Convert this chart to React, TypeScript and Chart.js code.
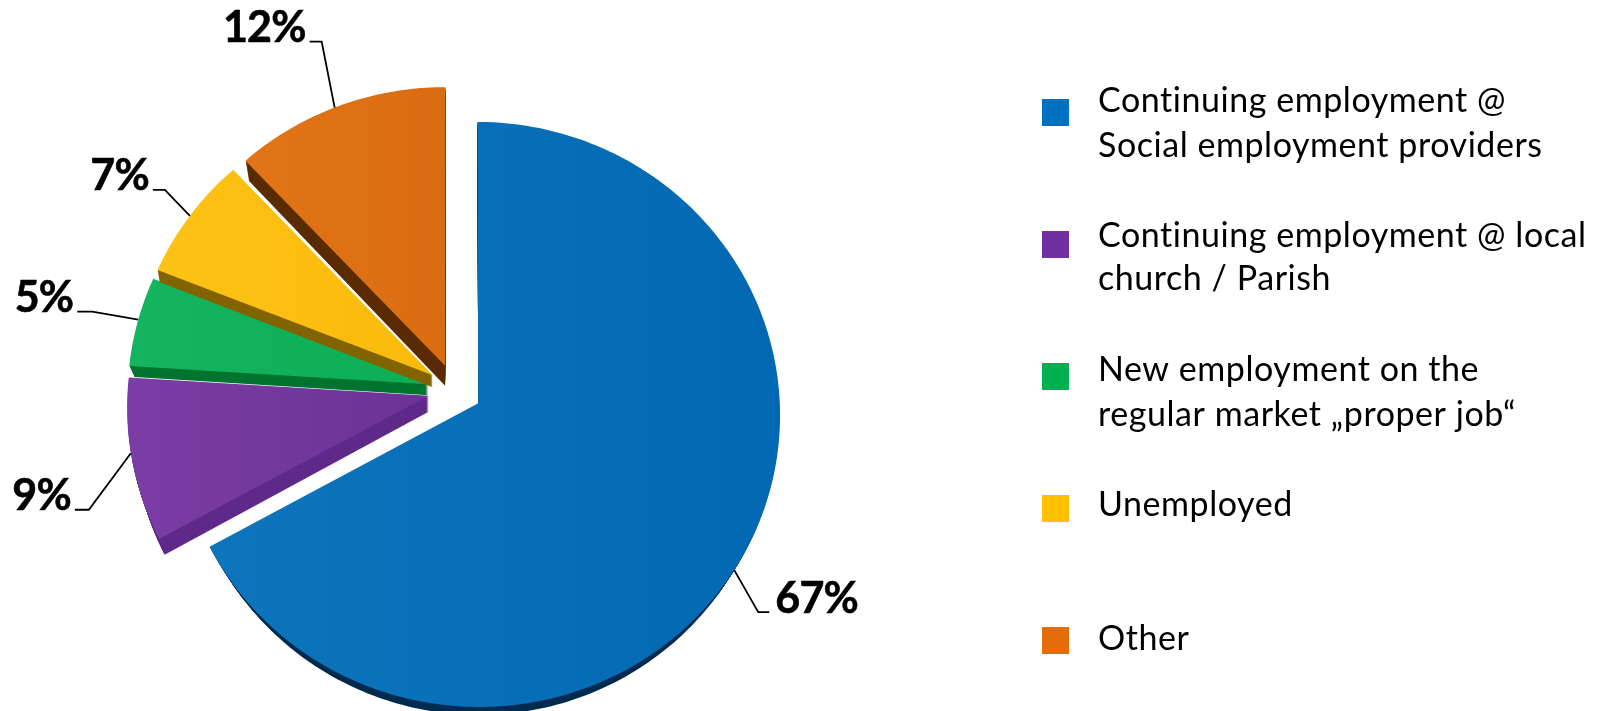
import React, { useEffect, useRef } from "react";
import { Chart, ArcElement, PieController, Plugin } from "chart.js";

// Outcome shares, clockwise from twelve o'clock
const categories = [
  "Continuing employment @ Social employment providers",
  "Continuing employment @ local church / Parish",
  "New employment on the regular market „proper job“",
  "Unemployed",
  "Other",
];
const shares = [67, 9, 5, 7, 12];

const legendLines = [
  ["Continuing employment @", "Social employment providers"],
  ["Continuing employment @ local", "church / Parish"],
  ["New employment on the", "regular market „proper job“"],
  ["Unemployed"],
  ["Other"],
];

const legendColors = ["#0070C0", "#7030A0", "#00B050", "#FFC000", "#E46C0A"];
const faceLight = ["#0e75bc", "#7a3da5", "#14b460", "#fdc216", "#e17517"];
const faceDark = ["#0268b3", "#6c3296", "#0eae55", "#f9ba0c", "#da6b12"];
const wallColors = ["#012b4f", "#5f2a8a", "#00742f", "#826400", "#5a2a00"];
const wallConverge = [6, 6, 5, 2, 5];
const wallDepthY = [8, 16, 11, 12, 20];

// Caption baselines below the top of each swatch
const captionBaselines = [[13, 58], [16, 59], [18, 63], [21], [23]];

// Where along each slice's outer edge the leader starts, and its two bends
const leaderFractions = [0.514, 0.54, 0.52, 0.5, 0.48];
const leaderBends = [
  [[24, 42], [11, 0]],
  [[-42, 56.5], [-14, 0]],
  [[-46, -8], [-15, 0]],
  [[-25, -26], [-12, 0]],
  [[-13, -66], [-12, 0]],
];

const PIE_RADIUS = 301;
const EXPLODE = 108; // Chart.js applies a quarter of this as the pixel offset
const TILT = 0.967;
const PERSPECTIVE = 0.038;

// Tilts a flat point (relative to the pie centre) away from the viewer
function tilt(cx: number, cy: number, px: number, py: number): [number, number] {
  const w = 1 / (1 - (PERSPECTIVE * py) / PIE_RADIUS);
  return [cx + px * w, cy + TILT * py * w];
}

// Pie slice drawn with a receding face and a solid side wall
class TiltedArc extends ArcElement {
  static id = "tiltedArc";
  static defaults = {
    ...ArcElement.defaults,
    faceFrom: "#000",
    faceTo: "#000",
    wallColor: "#000",
    converge: 0,
    depthY: 0,
  };

  draw(ctx: CanvasRenderingContext2D) {
    const { x, y, startAngle, endAngle, outerRadius } = this as any;
    const o = (this as any).options;
    const mid = (startAngle + endAngle) / 2;
    const shift = (o.offset || 0) / 4;
    const ox = Math.cos(mid) * shift;
    const oy = Math.sin(mid) * shift;

    const apex = tilt(x, y, ox, oy);
    const pts: [number, number][] = [apex];
    const steps = Math.max(8, Math.ceil(((endAngle - startAngle) * 180) / Math.PI));
    for (let i = 0; i <= steps; i++) {
      const a = startAngle + ((endAngle - startAngle) * i) / steps;
      pts.push(tilt(x, y, ox + Math.cos(a) * outerRadius, oy + Math.sin(a) * outerRadius));
    }

    // The back plane sits lower and narrows towards the slice's tip
    const trace = (t: number) => {
      const squeeze = 1 - (o.converge * t) / 300;
      ctx.beginPath();
      pts.forEach(([px, py], i) => {
        const qx = apex[0] + (px - apex[0]) * squeeze;
        const qy = py + o.depthY * t;
        if (i) ctx.lineTo(qx, qy);
        else ctx.moveTo(qx, qy);
      });
      ctx.closePath();
      ctx.fill();
    };

    ctx.save();
    ctx.fillStyle = o.wallColor;
    const layers = Math.ceil(o.depthY);
    for (let i = layers; i >= 1; i--) trace(i / layers);
    const xs = pts.map((p) => p[0]);
    const grad = ctx.createLinearGradient(Math.min(...xs), 0, Math.max(...xs), 0);
    grad.addColorStop(0, o.faceFrom);
    grad.addColorStop(1, o.faceTo);
    ctx.fillStyle = grad;
    trace(0);
    ctx.restore();
  }
}

class TiltedPieController extends PieController {
  static id = "tiltedPie";
  static defaults = { ...PieController.defaults, dataElementType: "tiltedArc" };
  static overrides = PieController.overrides;
}

Chart.register(TiltedArc, TiltedPieController);

// Percent labels with elbow leader lines
const leaderLabels: Plugin = {
  id: "leaderLabels",
  afterDatasetsDraw(chart) {
    const { ctx } = chart;
    const arcs = chart.getDatasetMeta(0).data as any[];
    ctx.save();
    arcs.forEach((arc, i) => {
      const { x, y, startAngle, endAngle, outerRadius } = arc;
      const mid = (startAngle + endAngle) / 2;
      const shift = (arc.options.offset || 0) / 4;
      const a = startAngle + (endAngle - startAngle) * leaderFractions[i];
      const [sx, sy] = tilt(
        x,
        y,
        Math.cos(mid) * shift + Math.cos(a) * outerRadius,
        Math.sin(mid) * shift + Math.sin(a) * outerRadius,
      );
      const [b1, b2] = leaderBends[i];
      const ex = sx + b1[0];
      const ey = sy + b1[1];
      const fx = ex + b2[0];
      const fy = ey + b2[1];

      ctx.beginPath();
      ctx.moveTo(sx, sy);
      ctx.lineTo(ex, ey);
      ctx.lineTo(fx, fy);
      ctx.strokeStyle = "#000";
      ctx.lineWidth = 1.8;
      ctx.stroke();

      const toRight = b2[0] > 0;
      ctx.font = "700 43px Lato";
      (ctx as any).letterSpacing = "-0.8px";
      ctx.fillStyle = "#000";
      ctx.textAlign = toRight ? "left" : "right";
      ctx.textBaseline = "alphabetic";
      const tx = fx + (toRight ? 6 : -4);
      const ty = fy + 0.5;
      ctx.lineWidth = 0.6;
      ctx.strokeText(`${shares[i]}%`, tx, ty);
      ctx.fillText(`${shares[i]}%`, tx, ty);
      (ctx as any).letterSpacing = "0px";
    });
    ctx.restore();
  },
};

// Right-hand key: one swatch per slice with wrapped captions
const sideKey: Plugin = {
  id: "sideKey",
  afterDraw(chart) {
    const { ctx } = chart;
    const swatchX = 1042;
    const swatchTop = 99;
    const swatchSize = 27;
    const rowStep = 132;
    const textX = 1098;
    ctx.save();
    ctx.font = "400 34px Lato";
    (ctx as any).letterSpacing = "0.55px";
    ctx.textAlign = "left";
    ctx.textBaseline = "alphabetic";
    legendLines.forEach((lines, i) => {
      const top = swatchTop + rowStep * i;
      ctx.fillStyle = legendColors[i];
      ctx.fillRect(swatchX, top, swatchSize, swatchSize);
      ctx.fillStyle = "#000";
      lines.forEach((line, j) => ctx.fillText(line, textX, top + captionBaselines[i][j]));
    });
    ctx.restore();
  },
};

export default function App() {
  const ref = useRef<HTMLCanvasElement>(null);

  useEffect(() => {
    const chart = new Chart(ref.current!, {
      type: "tiltedPie" as any,
      data: {
        labels: categories,
        datasets: [
          {
            data: shares,
            backgroundColor: legendColors,
            faceFrom: faceLight,
            faceTo: faceDark,
            wallColor: wallColors,
            converge: wallConverge,
            depthY: wallDepthY,
            offset: EXPLODE,
            radius: PIE_RADIUS,
            borderWidth: 0,
          } as any,
        ],
      },
      options: {
        responsive: false,
        animation: false,
        events: [],
        layout: { padding: { left: 0, right: 694, top: 69, bottom: 0 } },
        plugins: { legend: { display: false }, tooltip: { enabled: false } },
      },
      plugins: [leaderLabels, sideKey],
    });
    return () => chart.destroy();
  }, []);

  return (
    <canvas
      ref={ref}
      width={1604}
      height={711}
      style={{ position: "absolute", left: 0, top: 0, display: "block" }}
    />
  );
}
